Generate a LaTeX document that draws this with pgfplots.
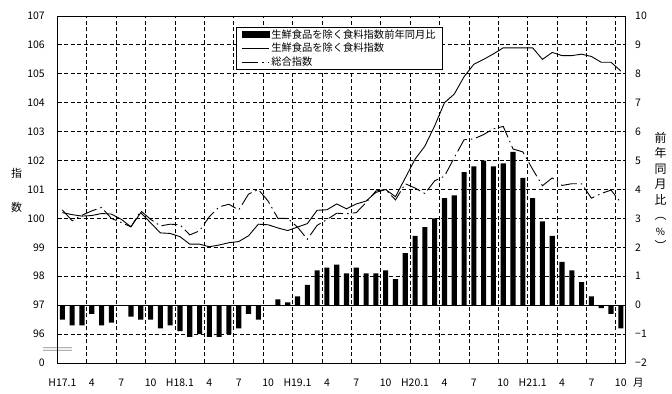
\documentclass[border=0pt]{standalone}
\usepackage{fontspec}
\setmainfont{Noto Sans CJK JP}
\usepackage{pgfplots}
\usepackage{pgfplotstable}
\pgfplotsset{compat=1.18}

\pgfplotstableread{
i bar food total
0 -0.5 100.20 100.29
1 -0.7 100.13 99.92
2 -0.7 100.08 100.11
3 -0.3 100.10 100.26
4 -0.7 100.17 100.38
5 -0.6 100.15 100.00
6 0.0 99.97 99.86
7 -0.4 99.71 99.71
8 -0.5 100.20 100.26
9 -0.5 99.85 99.97
10 -0.8 99.50 99.74
11 -0.7 99.48 99.80
12 -0.9 99.37 99.78
13 -1.1 99.11 99.43
14 -1.0 99.11 99.57
15 -1.1 99.02 100.06
16 -1.1 99.08 100.40
17 -1.0 99.16 100.49
18 -0.8 99.20 100.29
19 -0.3 99.40 100.84
20 -0.5 99.80 101.00
21 0.0 99.78 100.60
22 0.2 99.67 100.00
23 0.1 99.58 100.00
24 0.3 99.70 99.70
25 0.7 99.82 99.28
26 1.2 100.28 99.76
27 1.3 100.30 99.96
28 1.4 100.50 100.18
29 1.1 100.33 100.16
30 1.3 100.50 100.20
31 1.1 100.60 100.55
32 1.1 100.90 100.95
33 1.2 101.00 101.00
34 0.9 100.75 100.64
35 1.8 101.40 101.20
36 2.4 102.05 101.05
37 2.7 102.50 100.86
38 3.0 103.20 101.30
39 3.7 104.00 101.46
40 3.8 104.30 102.10
41 4.6 104.90 102.72
42 4.8 105.33 102.75
43 5.0 105.50 102.90
44 4.8 105.69 103.10
45 4.9 105.90 103.18
46 5.3 105.90 102.40
47 4.4 105.90 102.30
48 3.7 105.90 101.70
49 2.9 105.50 101.13
50 2.4 105.74 101.40
51 1.5 105.63 101.14
52 1.2 105.63 101.20
53 0.8 105.68 101.20
54 0.3 105.60 100.70
55 -0.1 105.40 100.86
56 -0.3 105.40 100.98
57 -0.8 105.10 100.55
}\datatable

\begin{document}
\begin{tikzpicture}
\path[use as bounding box] (0,0) rectangle (672bp,394bp);
% axis break mark
\fill[gray!12] (43bp,44bp) rectangle (72bp,46.3bp);
\draw[gray!60, line width=0.8bp] (43bp,46.5bp) -- (72bp,46.5bp);
\draw[gray!60, line width=0.8bp] (43bp,43.8bp) -- (72bp,43.8bp);

\begin{axis}[
  at={(57.5bp,31bp)}, anchor=south west,
  scale only axis, width=568.2bp, height=347bp,
  xmin=-0.5, xmax=57.5, ymin=-2, ymax=10,
  axis line style={black, line width=0.9bp},
  xtick={0,3,...,57},
  xticklabels={H17.1,4,7,10,H18.1,4,7,10,H19.1,4,7,10,H20.1,4,7,10,H21.1,4,7,{10\rlap{\hspace{6.5bp}月}}},
  xticklabel style={font=\fontsize{10.5}{12}\selectfont, anchor=base, inner sep=0pt},
  xticklabel shift=23.5bp,
  extra x ticks={2.5,5.5,...,56.5},
  extra x tick labels={},
  extra x tick style={grid=major},
  ytick={-2,-1,...,10},
  yticklabels={−2,−1,0,1,2,3,4,5,6,7,8,9,10},
  yticklabel pos=right,
  yticklabel style={font=\fontsize{10.5}{12}\selectfont, anchor=west, inner sep=0pt},
  yticklabel shift=9.3bp,
  ymajorgrids,
  major tick length=0pt,
  major grid style={black, line width=0.9bp, dash pattern=on 4bp off 2.5bp},
]
\addplot[ybar, bar width=0.52, bar shift=0pt, fill=black, draw=none] table[x=i, y=bar] {\datatable};
\addplot[black, line width=0.9bp] coordinates {(-0.5,0) (57.5,0)};
\end{axis}

\begin{axis}[
  at={(57.5bp,31bp)}, anchor=south west,
  scale only axis, width=568.2bp, height=347bp,
  xmin=-0.5, xmax=57.5, ymin=95, ymax=107,
  axis x line=none, axis y line*=left,
  axis line style={black, line width=0.9bp},
  ytick={95,96,97,98,99,100,101,102,103,104,105,106,107},
  yticklabels={0,96,97,98,99,100,101,102,103,104,105,106,107},
  yticklabel style={font=\fontsize{10.5}{12}\selectfont, anchor=east, inner sep=0pt},
  yticklabel shift=12.5bp,
  major tick length=0pt,
  legend image code/.code={\draw[#1] (0bp,0bp) -- (27bp,0bp);},
  legend style={at={(0.3142,0.9683)}, anchor=north west, draw=black, line width=0.9bp,
    fill=white, inner xsep=5.5bp, inner ysep=0.5bp, row sep=0.6bp,
    font=\fontsize{10.3}{12}\selectfont, nodes={inner sep=1.5bp}},
  legend cell align=left,
]
\addlegendimage{legend image code/.code={\fill[black] (0bp,-2.6bp) rectangle (27bp,2.6bp);}}
\addlegendentry{生鮮食品を除く食料指数前年同月比}
\addplot[black, line width=0.9bp] table[x=i, y=food] {\datatable};
\addlegendentry{生鮮食品を除く食料指数}
\addplot[black, line width=0.9bp, dash pattern=on 16bp off 4bp on 1.5bp off 4bp] table[x=i, y=total] {\datatable};
\addlegendentry{総合指数}
\end{axis}

\node[font=\fontsize{11}{12}\selectfont, inner sep=0pt] at (16.5bp,221bp) {指};
\node[font=\fontsize{11}{12}\selectfont, inner sep=0pt] at (16.5bp,187bp) {数};
\node[font=\fontsize{12}{15.6}\selectfont, align=center, inner sep=0pt] at (660.5bp,202.5bp)
  {前\\年\\同\\月\\比\\︵\\{\fontsize{10}{15.6}\selectfont\%}\\︶};
\end{tikzpicture}
\end{document}
